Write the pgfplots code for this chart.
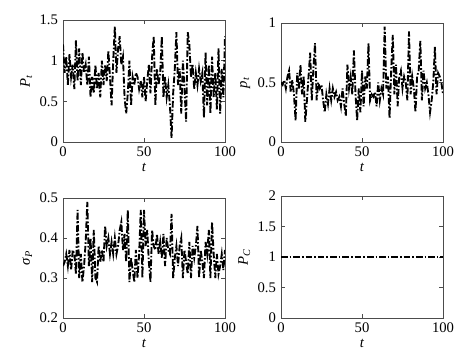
\documentclass[border=0pt]{standalone}
\usepackage{fontspec}
\setmainfont{Liberation Serif}
\usepackage{pgfplots}
\pgfplotsset{compat=1.18}
\begin{document}
\fontsize{11}{13}\selectfont
\begin{tikzpicture}
\pgfplotsset{
  every axis/.append style={
    scale only axis,
    width=121.5pt,
    xmin=0, xmax=100,
    xtick={0,50,100},
    tick align=inside,
    major tick length=3pt,
    axis line style={draw=black!70, line width=0.6pt},
    every tick/.style={black!70, line width=0.6pt},
    /pgf/number format/assume math mode=true,
    tick label style={font=\fontsize{11}{13}\selectfont},
    label style={font=\fontsize{11}{13}\selectfont},
    xlabel={\textit{t}},
    xlabel style={yshift=3pt},
    ylabel style={yshift=-2pt},
  },
  myline/.style={black, line width=1.4pt, dash pattern=on 5pt off 1.5pt on 1.2pt off 1.5pt, no marks},
}
\path[use as bounding box] (0pt,0pt) rectangle (348pt,-266.25pt);

\begin{axis}[at={(47.25pt,-106.5pt)}, anchor=south west, height=91.5pt,
  ymin=0, ymax=1.5, ytick={0,0.5,1,1.5},
  ylabel={\textit{P}\textsubscript{\textit{t}}}]
\addplot[myline] table[x=t,y=v] {
t v
0 1.20
1 0.85
2 1.05
3 0.70
4 1.08
5 0.80
6 0.95
7 0.65
8 1.25
9 0.75
10 1.15
11 0.70
12 1.10
13 0.85
14 0.95
15 0.70
16 1.05
17 0.55
18 0.80
19 0.60
20 0.95
21 0.65
22 0.85
23 0.55
24 1.00
25 0.70
26 0.95
27 0.75
28 1.12
29 0.80
30 0.45
31 1.00
32 1.42
33 0.85
34 1.15
35 1.30
36 0.95
37 1.05
38 0.55
39 0.35
40 0.60
41 1.00
42 0.45
43 0.80
44 0.70
45 0.85
46 0.80
47 0.65
48 0.75
49 0.55
50 0.80
51 0.50
52 0.75
53 0.95
54 0.60
55 1.05
56 1.30
57 0.45
58 0.90
59 0.70
60 0.85
61 1.30
62 0.55
63 0.80
64 0.55
65 0.70
66 0.45
67 0.05
68 0.60
69 0.90
70 1.35
71 0.70
72 0.90
73 0.35
74 1.00
75 0.65
76 0.25
77 1.35
78 1.20
79 0.80
80 0.95
81 0.65
82 0.85
83 0.70
84 0.90
85 0.75
86 0.85
87 0.30
88 1.10
89 0.45
90 0.95
91 0.35
92 1.05
93 0.55
94 0.85
95 0.40
96 1.15
97 0.35
98 0.90
99 0.55
100 1.30
};
\end{axis}

\begin{axis}[at={(210.75pt,-106.5pt)}, anchor=south west, height=89.25pt,
  ymin=0, ymax=1, ytick={0,0.5,1},
  ylabel={\textit{p}\textsubscript{\textit{t}}}]
\addplot[myline] table[x=t,y=v] {
t v
0 0.50
1 0.48
2 0.52
3 0.45
4 0.55
5 0.60
6 0.42
7 0.52
8 0.40
9 0.18
10 0.58
11 0.45
12 0.65
13 0.40
14 0.55
15 0.17
16 0.35
17 0.55
18 0.75
19 0.35
20 0.62
21 0.83
22 0.35
23 0.50
24 0.45
25 0.48
26 0.35
27 0.25
28 0.40
29 0.32
30 0.45
31 0.35
32 0.45
33 0.38
34 0.42
35 0.35
36 0.38
37 0.30
38 0.45
39 0.32
40 0.22
41 0.65
42 0.45
43 0.55
44 0.40
45 0.77
46 0.40
47 0.18
48 0.45
49 0.25
50 0.60
51 0.30
52 0.55
53 0.45
54 0.83
55 0.35
56 0.40
57 0.38
58 0.42
59 0.30
60 0.50
61 0.35
62 0.45
63 0.40
64 0.97
65 0.45
66 0.55
67 0.20
68 0.60
69 0.90
70 0.40
71 0.65
72 0.30
73 0.55
74 0.60
75 0.45
76 0.55
77 0.50
78 0.35
79 0.93
80 0.40
81 0.55
82 0.45
83 0.25
84 0.55
85 0.60
86 0.85
87 0.35
88 0.60
89 0.45
90 0.50
91 0.40
92 0.25
93 0.35
94 0.50
95 0.80
96 0.40
97 0.58
98 0.55
99 0.50
100 0.40
};
\end{axis}

\begin{axis}[at={(47.25pt,-238.5pt)}, anchor=south west, height=90pt,
  ymin=0.2, ymax=0.5, ytick={0.2,0.3,0.4,0.5},
  ylabel={\textit{σ}\textsubscript{\textit{P}}}]
\addplot[myline] table[x=t,y=v] {
t v
0 0.33
1 0.34
2 0.36
3 0.33
4 0.37
5 0.32
6 0.37
7 0.36
8 0.31
9 0.47
10 0.30
11 0.36
12 0.29
13 0.33
14 0.39
15 0.49
16 0.33
17 0.40
18 0.29
19 0.42
20 0.30
21 0.29
22 0.38
23 0.34
24 0.37
25 0.34
26 0.43
27 0.38
28 0.40
29 0.36
30 0.39
31 0.36
32 0.40
33 0.36
34 0.38
35 0.42
36 0.44
37 0.37
38 0.41
39 0.34
40 0.47
41 0.29
42 0.35
43 0.32
44 0.29
45 0.37
46 0.30
47 0.36
48 0.47
49 0.30
50 0.47
51 0.38
52 0.42
53 0.34
54 0.29
55 0.42
56 0.38
57 0.37
58 0.41
59 0.36
60 0.39
61 0.35
62 0.41
63 0.33
64 0.40
65 0.37
66 0.36
67 0.46
68 0.30
69 0.35
70 0.38
71 0.33
72 0.38
73 0.40
74 0.30
75 0.37
76 0.34
77 0.31
78 0.39
79 0.30
80 0.38
81 0.35
82 0.38
83 0.43
84 0.30
85 0.37
86 0.34
87 0.30
88 0.39
89 0.36
90 0.42
91 0.30
92 0.44
93 0.36
94 0.30
95 0.36
96 0.31
97 0.33
98 0.36
99 0.32
100 0.37
};
\end{axis}

\begin{axis}[at={(210.75pt,-238.5pt)}, anchor=south west, height=91.5pt,
  ymin=0, ymax=2, ytick={0,0.5,1,1.5,2},
  ylabel={\textit{P}\textsubscript{\textit{C}}}]
\addplot[myline] table[x=t,y=v] {
t v
0 1
100 1
};
\end{axis}
\end{tikzpicture}
\end{document}
